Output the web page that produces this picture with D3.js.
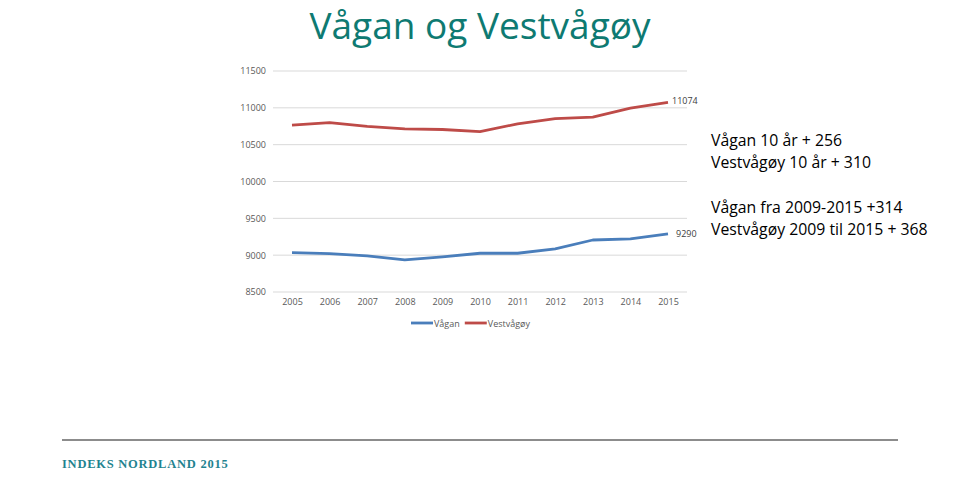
<!DOCTYPE html>
<html>
<head>
<meta charset="utf-8">
<script src="https://cdn.jsdelivr.net/npm/d3@7"></script>
<style>
body { margin: 0; background: #fff; }
svg { display: block; }
</style>
</head>
<body>
<div id="chart"></div>
<script>
// data
const years = [2005, 2006, 2007, 2008, 2009, 2010, 2011, 2012, 2013, 2014, 2015];
const vagan = [9034, 9022, 8990, 8936, 8976, 9026, 9026, 9085, 9206, 9222, 9290];
const vestvagoy = [10764, 10800, 10747, 10714, 10706, 10678, 10782, 10854, 10873, 10995, 11074];
const yTicks = [8500, 9000, 9500, 10000, 10500, 11000, 11500];
const seriesNames = ["Vågan", "Vestvågøy"];
const notes = ["Vågan 10 år + 256", "Vestvågøy 10 år + 310", "", "Vågan fra 2009-2015 +314", "Vestvågøy 2009 til 2015 + 368"];

const W = 959, H = 486;
const colors = ["#4a7ebb", "#be4b48"];

const svg = d3.select("#chart").append("svg")
    .attr("width", W)
    .attr("height", H);

// title
svg.append("text")
    .attr("x", 480)
    .attr("y", 39)
    .attr("text-anchor", "middle")
    .attr("font-family", "Open Sans, sans-serif")
    .attr("font-size", 37)
    .attr("fill", "#0e7a72")
    .text("Vågan og Vestvågøy");

// plot area
const plot = {left: 273, right: 687, top: 71, bottom: 292};

const x = d3.scalePoint()
    .domain(years)
    .range([292, 668]);

const y = d3.scaleLinear()
    .domain([8500, 11500])
    .range([plot.bottom, plot.top]);

// grid
svg.append("g")
    .selectAll("line")
    .data(yTicks)
    .enter()
    .append("line")
    .attr("x1", plot.left)
    .attr("x2", plot.right)
    .attr("y1", d => y(d))
    .attr("y2", d => y(d))
    .attr("stroke", "#d9d9d9")
    .attr("stroke-width", 1);

const yAxis = d3.axisLeft(y).tickValues(yTicks).tickFormat(d3.format("d")).tickSize(0).tickPadding(7);
svg.append("g")
    .attr("transform", "translate(" + plot.left + ",0)")
    .call(yAxis)
    .call(g => g.select(".domain").remove())
    .selectAll("text")
    .attr("font-family", "Open Sans, sans-serif")
    .attr("font-size", 9)
    .attr("fill", "#595959");

const xAxis = d3.axisBottom(x).tickSize(0).tickPadding(7);
svg.append("g")
    .attr("transform", "translate(0," + plot.bottom + ")")
    .call(xAxis)
    .call(g => g.select(".domain").remove())
    .selectAll("text")
    .attr("font-family", "Open Sans, sans-serif")
    .attr("font-size", 9)
    .attr("fill", "#595959");

// lines
const line = d3.line()
    .x((d, i) => x(years[i]))
    .y(d => y(d));

[vagan, vestvagoy].forEach(function (s, i) {
    svg.append("path")
        .datum(s)
        .attr("d", line)
        .attr("fill", "none")
        .attr("stroke", colors[i])
        .attr("stroke-width", 2.8)
        .attr("stroke-linejoin", "round");
});

// end labels
const last = years.length - 1;
svg.append("text")
    .attr("x", x(years[last]) + 8)
    .attr("y", y(vagan[last]) + 3)
    .attr("font-family", "Open Sans, sans-serif")
    .attr("font-size", 9)
    .attr("fill", "#404040")
    .text(vagan[last]);
svg.append("text")
    .attr("x", x(years[last]) + 4)
    .attr("y", y(vestvagoy[last]) + 2)
    .attr("font-family", "Open Sans, sans-serif")
    .attr("font-size", 9)
    .attr("fill", "#404040")
    .text(vestvagoy[last]);

// legend
const legend = svg.append("g").attr("transform", "translate(411,323)");
let lx = 0;
seriesNames.forEach(function (n, i) {
    legend.append("line")
        .attr("x1", lx).attr("x2", lx + 22)
        .attr("y1", 0).attr("y2", 0)
        .attr("stroke", colors[i])
        .attr("stroke-width", 2.8);
    const t = legend.append("text")
        .attr("x", lx + 23)
        .attr("y", 3.5)
        .attr("font-family", "Open Sans, sans-serif")
        .attr("font-size", 9)
        .attr("fill", "#595959")
        .text(n);
    lx += 23 + t.node().getComputedTextLength() + 5;
});

// notes
svg.append("g")
    .selectAll("text")
    .data(notes)
    .enter()
    .append("text")
    .attr("x", 711)
    .attr("y", (d, i) => i < 3 ? 146 + i * 22 : 146 + i * 22 + 1)
    .attr("font-family", "Open Sans, sans-serif")
    .attr("font-size", 15.8)
    .attr("fill", "#000")
    .text(d => d);

// footer
svg.append("line")
    .attr("x1", 62).attr("x2", 898)
    .attr("y1", 440).attr("y2", 440)
    .attr("stroke", "#8c8c8c")
    .attr("stroke-width", 2);

svg.append("text")
    .attr("x", 62)
    .attr("y", 468)
    .attr("font-family", "Liberation Serif, serif")
    .attr("font-weight", "bold")
    .attr("font-size", 12.5)
    .attr("letter-spacing", 0.75)
    .attr("fill", "#1f8390")
    .text("INDEKS NORDLAND 2015");
</script>
</body>
</html>
